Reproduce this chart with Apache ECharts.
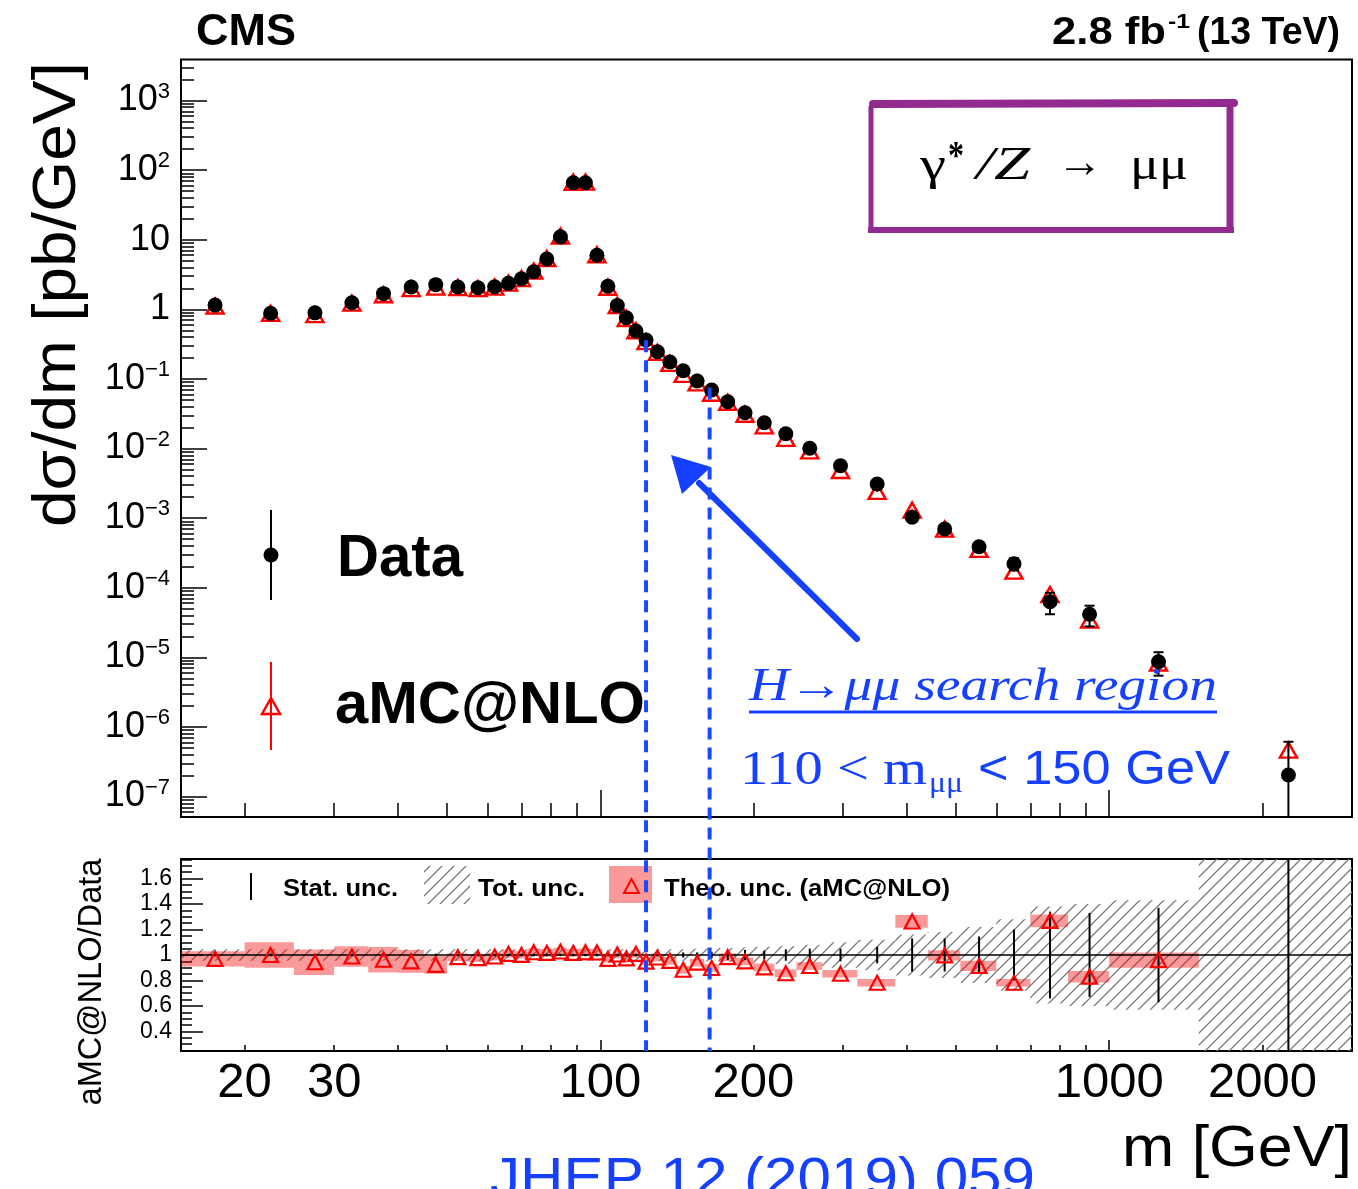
<!DOCTYPE html>
<html><head><meta charset="utf-8">
<script src="https://cdn.jsdelivr.net/npm/echarts@6/dist/echarts.min.js"></script>
<style>html,body{margin:0;padding:0;background:#fff}#c{width:1358px;height:1189px}</style>
</head><body><div id="c"></div>
<script>
// ---------------- data ----------------
const binEdges = [15,20,25,30,35,40,45,50,55,60,64,68,72,76,81,86,91,96,101,106,110,115,120,126,133,141,150,160,171,185,200,220,243,273,320,380,440,510,600,700,830,1000,1500,3000];
const massCenters = [17.5,22.5,27.5,32.5,37.5,42.5,47.5,52.5,57.5,62,66,70,74,78.5,83.5,88.5,93.5,98.5,103.5,108,112.5,117.5,123,129.5,137,145.5,155,165.5,178,192.5,210,231.5,258,296.5,350,410,475,555,650,765,915,1250,2250];
const dataValues = [1.15,0.875,0.89,1.24,1.68,2.09,2.26,2.09,2.04,2.11,2.36,2.75,3.47,5.28,11.0,65.9,65.9,5.97,2.14,1.13,0.757,0.488,0.362,0.246,0.175,0.131,0.0933,0.0693,0.047,0.0327,0.0235,0.0163,0.0101,0.00566,0.00309,0.00103,0.000697,0.000388,0.000221,6.3e-5,4.15e-5,8.65e-6,2.04e-7];
const mcValues = [1.115,0.875,0.839,1.225,1.618,1.986,2.086,2.054,1.989,2.085,2.381,2.753,3.546,5.37,11.3,67.0,67.35,6.089,2.076,1.135,0.737,0.492,0.343,0.241,0.167,0.116,0.0877,0.0622,0.0462,0.0311,0.0212,0.014,0.00923,0.00483,0.00242,0.0013,0.000695,0.000355,0.000173,7.99e-5,3.44e-5,8.3e-6,4.65e-7];
const ratioValues = [0.97,1.00,0.943,0.988,0.963,0.95,0.923,0.983,0.975,0.988,1.009,1.001,1.022,1.017,1.027,1.017,1.022,1.02,0.97,1.004,0.974,1.009,0.948,0.98,0.954,0.884,0.94,0.898,0.983,0.95,0.903,0.857,0.914,0.853,0.782,1.263,0.997,0.915,0.782,1.268,0.83,0.96,2.28];
const theoErr = [0.06,0.10,0.10,0.08,0.10,0.09,0.07,0.03,0.03,0.03,0.03,0.03,0.03,0.03,0.03,0.03,0.03,0.03,0.03,0.03,0.03,0.03,0.03,0.03,0.03,0.03,0.03,0.03,0.03,0.03,0.03,0.03,0.03,0.03,0.03,0.05,0.04,0.04,0.03,0.05,0.045,0.06,0.06];
const statErr = [0.01,0.01,0.01,0.01,0.01,0.01,0.01,0.01,0.01,0.01,0.01,0.01,0.01,0.01,0.01,0.01,0.01,0.01,0.01,0.01,0.01,0.01,0.01,0.01,0.01,0.02,0.02,0.025,0.04,0.04,0.035,0.045,0.05,0.05,0.065,0.13,0.13,0.145,0.2,0.34,0.33,0.37,2.0];
const totErr = [0.045,0.045,0.045,0.045,0.045,0.045,0.045,0.045,0.045,0.045,0.045,0.045,0.045,0.045,0.045,0.045,0.045,0.045,0.045,0.045,0.045,0.045,0.045,0.045,0.045,0.045,0.05,0.05,0.055,0.06,0.065,0.07,0.08,0.1,0.12,0.16,0.18,0.22,0.28,0.38,0.4,0.43,1.0];
// tick labels
const xMajorTicks = [100,1000];
const xMinorTicks = [20,30,40,50,60,70,80,90,200,300,400,500,600,700,800,900,2000];
const xTickLabels = [20,30,100,200,1000,2000];
const yMajorTicks = [1e-7,1e-6,1e-5,1e-4,1e-3,1e-2,1e-1,1,10,100,1000];
const ratioTickLabels = [0.4,0.6,0.8,1,1.2,1.4,1.6];
// annotation: search-region guide lines (mass, top value)
const searchLineMass = [123,164];
const searchLineTop = [0.36,0.075];

// ---------------- axis ranges ----------------
const X_MIN = 15, X_MAX = 3000;
const Y_MIN = 5.08e-8, Y_MAX = 3882;
const R_MIN = 0.247, R_MAX = 1.753;

const yMinorTicks = [];
for (let n = -8; n <= 3; n++) for (let k = 2; k <= 9; k++) { const v = k * Math.pow(10, n); if (v > Y_MIN && v < Y_MAX) yMinorTicks.push(v); }
const ratioMinorTicks = [];
for (let i = 5; i <= 35; i++) if (i % 4 !== 0) ratioMinorTicks.push(+(i * 0.05).toFixed(2));

const SANS = '"Liberation Sans", Arial, sans-serif';
const SERIF = '"Liberation Serif", "DejaVu Serif", serif';
const BLUE = '#1540ff';
const RED = '#ff0000';
const PINK = 'rgba(240,0,0,0.40)';

function hatchCanvas() {
  const c = document.createElement('canvas'); c.width = 12; c.height = 12;
  const g = c.getContext('2d'); g.strokeStyle = '#7a7a7a'; g.lineWidth = 1.3;
  g.beginPath();
  g.moveTo(0, 12); g.lineTo(12, 0);
  g.moveTo(-6, 6); g.lineTo(6, -6);
  g.moveTo(6, 18); g.lineTo(18, 6);
  g.stroke();
  return c;
}
const HATCH = hatchCanvas();

const chart = echarts.init(document.getElementById('c'), null, {renderer: 'canvas', width: 1358, height: 1189});

function clipR(params, r) {
  const cs = params.coordSys;
  return echarts.graphic.clipRectByRect(r, {x: cs.x, y: cs.y, width: cs.width, height: cs.height});
}
function boxRender(fill) {
  return function (params, api) {
    const p0 = api.coord([api.value(0), api.value(3)]);
    const p1 = api.coord([api.value(1), api.value(2)]);
    const r = clipR(params, {x: p0[0], y: p0[1], width: p1[0] - p0[0], height: p1[1] - p0[1]});
    if (!r) return null;
    return {type: 'rect', shape: r, style: {fill: fill}};
  };
}
function barRender(color, width, cap) {
  return function (params, api) {
    const cs = params.coordSys;
    const top = api.coord([api.value(0), api.value(2)]);
    const bot = api.coord([api.value(0), api.value(1)]);
    const y0 = Math.max(cs.y, Math.min(top[1], bot[1]));
    const y1 = Math.min(cs.y + cs.height, Math.max(top[1], bot[1]));
    const ch = [{type: 'line', shape: {x1: top[0], y1: y0, x2: top[0], y2: y1}, style: {stroke: color, lineWidth: width}}];
    if (cap) {
      if (top[1] >= cs.y) ch.push({type: 'line', shape: {x1: top[0] - cap, y1: top[1], x2: top[0] + cap, y2: top[1]}, style: {stroke: color, lineWidth: width}});
      if (bot[1] <= cs.y + cs.height) ch.push({type: 'line', shape: {x1: top[0] - cap, y1: bot[1], x2: top[0] + cap, y2: bot[1]}, style: {stroke: color, lineWidth: width}});
    }
    return {type: 'group', children: ch};
  };
}

const hatchData = massCenters.map((m, i) => [binEdges[i], binEdges[i + 1], 1 - totErr[i], 1 + totErr[i]]);
const theoData = massCenters.map((m, i) => [binEdges[i], binEdges[i + 1], ratioValues[i] - theoErr[i], ratioValues[i] + theoErr[i]]);
const statRatioData = massCenters.map((m, i) => [m, 1 - statErr[i], 1 + statErr[i]]);
const ratioPts = massCenters.map((m, i) => [m, ratioValues[i]]);
const dataPts = massCenters.map((m, i) => [m, dataValues[i]]);
const mcPts = massCenters.map((m, i) => [m, mcValues[i]]);
const dataErr = massCenters.map((m, i) => [m, dataValues[i] * (1 - statErr[i]) > Y_MIN ? dataValues[i] * (1 - statErr[i]) : Y_MIN, dataValues[i] * (1 + statErr[i])]);
const mcErr = massCenters.map((m, i) => [m, mcValues[i] * (1 - theoErr[i]), mcValues[i] * (1 + theoErr[i])]);

const tickStyle = {color: '#000', width: 1.5};
function xAxisDef(grid, ticks, len, label) {
  return {
    gridIndex: grid, type: 'log', logBase: 10, min: X_MIN, max: X_MAX, position: 'bottom',
    axisLine: {show: false}, splitLine: {show: false}, minorTick: {show: false},
    axisTick: {show: true, inside: true, length: len, customValues: ticks, lineStyle: tickStyle},
    axisLabel: label || {show: false}
  };
}

const option = {
  animation: false,
  backgroundColor: '#ffffff',
  textStyle: {fontFamily: SANS},
  grid: [
    {left: 181, top: 59.5, width: 1171, height: 757.5, show: true, borderColor: '#000', borderWidth: 2, backgroundColor: 'rgba(0,0,0,0)'},
    {left: 181, top: 859, width: 1171, height: 192, show: true, borderColor: '#000', borderWidth: 2, backgroundColor: 'rgba(0,0,0,0)'}
  ],
  xAxis: [
    xAxisDef(0, xMajorTicks, 27),
    xAxisDef(0, xMinorTicks, 14),
    xAxisDef(1, xMajorTicks, 11, {show: true, customValues: xTickLabels, formatter: v => String(Math.round(v)), fontSize: 49, fontFamily: SANS, color: '#000', margin: 32, verticalAlign: 'middle'}),
    xAxisDef(1, xMinorTicks, 6)
  ],
  yAxis: [
    {gridIndex: 0, type: 'log', logBase: 10, min: Y_MIN, max: Y_MAX, position: 'left',
      axisLine: {show: false}, splitLine: {show: false}, minorTick: {show: false},
      axisTick: {show: true, inside: true, length: 26, customValues: yMajorTicks, lineStyle: tickStyle},
      axisLabel: {show: true, customValues: yMajorTicks, margin: 11, align: 'right',
        formatter: v => { const e = Math.round(Math.log10(v)); if (e === 0) return '{b|1}'; if (e === 1) return '{b|10}'; return '{b|10}{s|' + (e < 0 ? '\u2212' + (-e) : e) + '}'; },
        rich: {b: {fontSize: 36, fontFamily: SANS, color: '#000', lineHeight: 40}, s: {fontSize: 22, fontFamily: SANS, color: '#000', lineHeight: 18, verticalAlign: 'top'}}}},
    {gridIndex: 0, type: 'log', logBase: 10, min: Y_MIN, max: Y_MAX, position: 'left',
      axisLine: {show: false}, splitLine: {show: false}, minorTick: {show: false},
      axisTick: {show: true, inside: true, length: 13, customValues: yMinorTicks, lineStyle: tickStyle}, axisLabel: {show: false}},
    {gridIndex: 1, type: 'value', min: R_MIN, max: R_MAX, position: 'left',
      axisLine: {show: false}, splitLine: {show: false},
      axisTick: {show: true, inside: true, length: 22, customValues: ratioTickLabels, lineStyle: tickStyle},
      axisLabel: {show: true, customValues: ratioTickLabels, margin: 9, fontSize: 23, fontFamily: SANS, color: '#000', formatter: v => (Math.abs(v - 1) < 1e-9 ? '1' : v.toFixed(1))}},
    {gridIndex: 1, type: 'value', min: R_MIN, max: R_MAX, position: 'left',
      axisLine: {show: false}, splitLine: {show: false},
      axisTick: {show: true, inside: true, length: 11, customValues: ratioMinorTicks, lineStyle: tickStyle}, axisLabel: {show: false}}
  ],
  series: [
    {type: 'custom', name: 'Tot. unc.', xAxisIndex: 2, yAxisIndex: 2, z: 1, data: hatchData, renderItem: boxRender({image: HATCH, repeat: 'repeat'})},
    {type: 'custom', name: 'Theo. unc.', xAxisIndex: 2, yAxisIndex: 2, z: 2, data: theoData, renderItem: boxRender(PINK)},
    {type: 'custom', name: 'Stat. unc.', xAxisIndex: 2, yAxisIndex: 2, z: 3, data: statRatioData, renderItem: barRender('#000', 2, 0),
      markLine: {silent: true, symbol: ['none', 'none'], label: {show: false}, lineStyle: {color: '#000', width: 1.6, type: 'solid'}, data: [{yAxis: 1}], z: 3}},
    {type: 'scatter', name: 'ratio', xAxisIndex: 2, yAxisIndex: 2, z: 4, clip: true, data: ratioPts, symbol: 'triangle', symbolSize: [15, 14],
      itemStyle: {color: 'rgba(0,0,0,0)', borderColor: RED, borderWidth: 2.2, opacity: 1}},
    {type: 'custom', name: 'mcErr', xAxisIndex: 0, yAxisIndex: 0, z: 2, data: mcErr, renderItem: barRender(RED, 1.5, 0)},
    {type: 'scatter', name: 'aMC@NLO', xAxisIndex: 0, yAxisIndex: 0, z: 3, data: mcPts, symbol: 'triangle', symbolSize: [17, 15],
      itemStyle: {color: 'rgba(0,0,0,0)', borderColor: RED, borderWidth: 2.5, opacity: 1}},
    {type: 'custom', name: 'dataErr', xAxisIndex: 0, yAxisIndex: 0, z: 4, data: dataErr, renderItem: barRender('#000', 2, 5)},
    {type: 'scatter', name: 'Data', xAxisIndex: 0, yAxisIndex: 0, z: 5, data: dataPts, symbol: 'circle', symbolSize: 15, itemStyle: {color: '#000', opacity: 1}}
  ]
};
chart.setOption(option);

// ---------------- annotations ----------------
const mctx = document.createElement('canvas').getContext('2d');
function textW(t, font) { mctx.font = font; return mctx.measureText(t).width; }
function fitText(t, font, l, r, cy, color, extra) {
  const sx = (r - l) / textW(t, font);
  return Object.assign({type: 'text', x: l, y: cy, scaleX: sx, z: 50,
    style: {text: t, font: font, fill: color || '#000', align: 'left', verticalAlign: 'middle', textAlign: 'left', textVerticalAlign: 'middle'}}, extra || {});
}
function rotText(t, font, len, cx, cy, color) {
  const sx = len / textW(t, font);
  return {type: 'text', x: cx, y: cy, rotation: Math.PI / 2, scaleX: sx, z: 50,
    style: {text: t, font: font, fill: color || '#000', align: 'center', verticalAlign: 'middle', textAlign: 'center', textVerticalAlign: 'middle'}};
}
const g = [];
g.push(fitText('CMS', 'bold 45px ' + SANS, 196, 296, 32.5));
g.push(fitText('2.8 fb', 'bold 38px ' + SANS, 1052, 1166, 34));
g.push(fitText('-1', 'bold 21px ' + SANS, 1168, 1190, 22));
g.push(fitText('(13 TeV)', 'bold 38px ' + SANS, 1197, 1340, 34));
g.push(rotText('d\u03c3/dm [pb/GeV]', '62px ' + SANS, 465, 58, 294.5));
g.push(rotText('aMC@NLO/Data', '33px ' + SANS, 247, 92, 982));
// legend top
g.push({type: 'line', shape: {x1: 271, y1: 510, x2: 271, y2: 600}, style: {stroke: '#000', lineWidth: 2}, z: 50});
g.push({type: 'circle', shape: {cx: 271, cy: 555, r: 7.5}, style: {fill: '#000'}, z: 51});
g.push(fitText('Data', 'bold 60px ' + SANS, 337, 463, 559));
g.push({type: 'line', shape: {x1: 271, y1: 662, x2: 271, y2: 750}, style: {stroke: RED, lineWidth: 2}, z: 50});
g.push({type: 'polygon', shape: {points: [[262, 714], [280, 714], [271, 698]]}, style: {fill: 'none', stroke: RED, lineWidth: 2.5}, z: 51});
g.push(fitText('aMC@NLO', 'bold 60px ' + SANS, 335, 645, 706));
// legend ratio
g.push({type: 'line', shape: {x1: 251, y1: 873, x2: 251, y2: 900}, style: {stroke: '#000', lineWidth: 2}, z: 50});
g.push(fitText('Stat. unc.', 'bold 24px ' + SANS, 283, 398, 889));
g.push({type: 'rect', shape: {x: 424, y: 866, width: 46, height: 38}, style: {fill: {image: HATCH, repeat: 'repeat'}}, z: 50});
g.push(fitText('Tot. unc.', 'bold 24px ' + SANS, 478, 585, 889));
g.push({type: 'rect', shape: {x: 609, y: 866, width: 43, height: 37}, style: {fill: PINK}, z: 50});
g.push({type: 'polygon', shape: {points: [[624, 893], [639, 893], [631.5, 879]]}, style: {fill: 'none', stroke: RED, lineWidth: 2}, z: 51});
g.push(fitText('Theo. unc. (aMC@NLO)', 'bold 24px ' + SANS, 664, 950, 889));
// process box
const PURPLE = '#932a8f';
g.push({type: 'line', shape: {x1: 873, y1: 104, x2: 1234, y2: 103}, style: {stroke: PURPLE, lineWidth: 8, lineCap: 'round'}, z: 50});
g.push({type: 'line', shape: {x1: 1230, y1: 100, x2: 1230, y2: 233}, style: {stroke: PURPLE, lineWidth: 7}, z: 50});
g.push({type: 'line', shape: {x1: 868, y1: 230, x2: 1234, y2: 230}, style: {stroke: PURPLE, lineWidth: 6}, z: 50});
g.push({type: 'line', shape: {x1: 871, y1: 106, x2: 871, y2: 233}, style: {stroke: PURPLE, lineWidth: 5}, z: 50});
g.push(fitText('\u03b3', '46px ' + SERIF, 920, 946, 167));
g.push(fitText('*', 'bold 40px ' + SERIF, 948, 964, 158));
g.push(fitText('/Z', 'italic 46px ' + SERIF, 976, 1030, 167));
g.push(fitText('\u2192', '46px ' + SERIF, 1057, 1103, 165));
g.push(fitText('\u03bc\u03bc', '46px ' + SERIF, 1130, 1188, 167));
// search region annotation
g.push(fitText('H\u2192\u03bc\u03bc search region', 'italic 46px ' + SERIF, 749, 1217, 688, BLUE));
g.push({type: 'line', shape: {x1: 749, y1: 712, x2: 1217, y2: 712}, style: {stroke: BLUE, lineWidth: 3}, z: 50});
g.push(fitText('110 < m', '48px ' + SERIF, 740, 927, 771, BLUE));
g.push(fitText('\u03bc\u03bc', '30px ' + SERIF, 929, 963, 784, BLUE));
g.push(fitText('< 150 GeV', '48px ' + SANS, 978, 1230, 771, BLUE));
g.push({type: 'polyline', shape: {points: [[857, 639], [699, 483]]}, style: {stroke: BLUE, lineWidth: 6, lineCap: 'round'}, z: 50});
g.push({type: 'polygon', shape: {points: [[671, 455], [682, 494], [711, 467]]}, style: {fill: BLUE}, z: 50});
// search-region guide lines placed through the axes
const yBottom = chart.convertToPixel({yAxisIndex: 2}, R_MIN);
searchLineMass.forEach((m, i) => {
  const x = chart.convertToPixel({xAxisIndex: 0}, m);
  const y = chart.convertToPixel({yAxisIndex: 0}, searchLineTop[i]);
  g.push({type: 'line', shape: {x1: x, y1: y, x2: x, y2: yBottom}, style: {stroke: '#1a48ff', lineWidth: 4, lineDash: [12, 8]}, z: 60});
});
// footer texts
g.push(fitText('JHEP 12 (2019) 059', '56px ' + SANS, 490, 1035, 1181, BLUE));
g.push(fitText('m [GeV]', '58px ' + SANS, 1122, 1352, 1150));
chart.setOption({graphic: {elements: g}});
</script>
</body></html>
